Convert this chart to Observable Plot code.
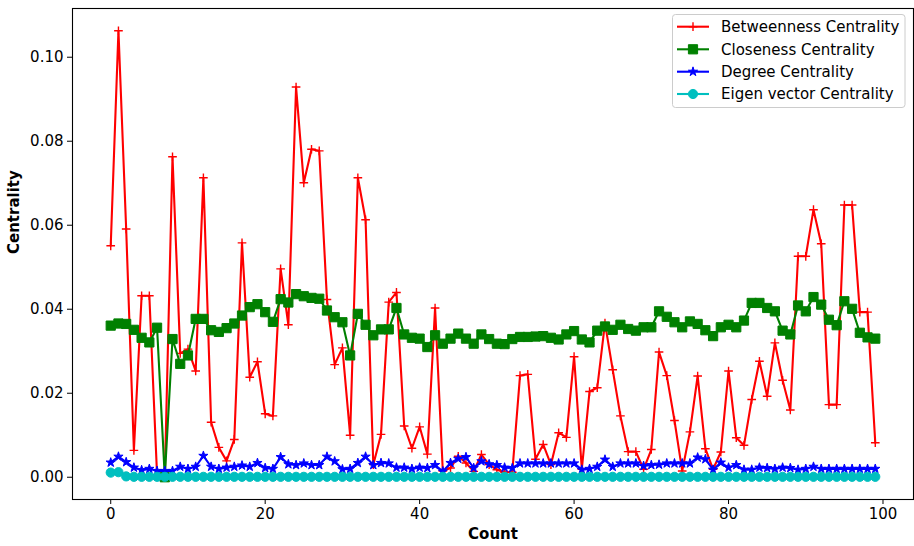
<!DOCTYPE html>
<html>
<head>
<meta charset="utf-8">
<script src="https://cdn.jsdelivr.net/npm/d3@7"></script>
<script src="https://cdn.jsdelivr.net/npm/@observablehq/plot@0.6"></script>
<style>
  html, body { margin: 0; padding: 0; background: white; }
  svg { display: block; }
</style>
</head>
<body>
<div id="chart"></div>
<script>
const seriesNames = ["Betweenness Centrality", "Closeness Centrality", "Degree Centrality", "Eigen vector Centrality"];
const xTicks = [0, 20, 40, 60, 80, 100];
const yTicks = [0.00, 0.02, 0.04, 0.06, 0.08, 0.10];

const betweenness = [
  0.0551, 0.1063, 0.0591, 0.0064, 0.0432, 0.0432, 0.0005, 0.0000, 0.0763, 0.0295,
  0.0305, 0.0253, 0.0713, 0.0131, 0.0071, 0.0039, 0.0090, 0.0558, 0.0238, 0.0275,
  0.0151, 0.0146, 0.0496, 0.0363, 0.0929, 0.0701, 0.0781, 0.0777, 0.0423, 0.0268,
  0.0308, 0.0100, 0.0713, 0.0613, 0.0030, 0.0102, 0.0417, 0.0440, 0.0122, 0.0069,
  0.0120, 0.0055, 0.0403, 0.0015, 0.0022, 0.0050, 0.0034, 0.0014, 0.0054, 0.0030,
  0.0018, 0.0012, 0.0012, 0.0242, 0.0245, 0.0043, 0.0078, 0.0030, 0.0106, 0.0095,
  0.0287, 0.0019, 0.0204, 0.0213, 0.0367, 0.0256, 0.0146, 0.0061, 0.0061, 0.0019,
  0.0066, 0.0298, 0.0242, 0.0135, 0.0015, 0.0108, 0.0241, 0.0068, 0.0019, 0.0060,
  0.0253, 0.0094, 0.0076, 0.0185, 0.0276, 0.0193, 0.0320, 0.0231, 0.0160, 0.0526,
  0.0526, 0.0637, 0.0556, 0.0173, 0.0173, 0.0648, 0.0648, 0.0393, 0.0393, 0.0082
];

const closeness = [
  0.0361, 0.0366, 0.0365, 0.0351, 0.0332, 0.0321, 0.0356, 0.0000, 0.0329, 0.0270,
  0.0290, 0.0377, 0.0377, 0.0350, 0.0346, 0.0355, 0.0366, 0.0385, 0.0405, 0.0412,
  0.0393, 0.0370, 0.0424, 0.0416, 0.0436, 0.0431, 0.0427, 0.0425, 0.0397, 0.0381,
  0.0369, 0.0290, 0.0389, 0.0363, 0.0338, 0.0352, 0.0352, 0.0403, 0.0340, 0.0332,
  0.0330, 0.0310, 0.0338, 0.0318, 0.0330, 0.0342, 0.0330, 0.0318, 0.0340, 0.0329,
  0.0318, 0.0317, 0.0329, 0.0334, 0.0334, 0.0335, 0.0336, 0.0332, 0.0328, 0.0340,
  0.0348, 0.0328, 0.0321, 0.0349, 0.0359, 0.0351, 0.0363, 0.0353, 0.0349, 0.0357,
  0.0357, 0.0395, 0.0382, 0.0369, 0.0357, 0.0371, 0.0365, 0.0350, 0.0336, 0.0357,
  0.0363, 0.0357, 0.0373, 0.0415, 0.0415, 0.0403, 0.0395, 0.0349, 0.0340, 0.0409,
  0.0395, 0.0429, 0.0411, 0.0375, 0.0362, 0.0419, 0.0401, 0.0344, 0.0333, 0.0330
];

const degree = [
  0.0035, 0.0049, 0.0036, 0.0023, 0.0017, 0.0020, 0.0015, 0.0015, 0.0015, 0.0025,
  0.0020, 0.0025, 0.0051, 0.0025, 0.0020, 0.0023, 0.0025, 0.0028, 0.0025, 0.0034,
  0.0022, 0.0020, 0.0048, 0.0031, 0.0029, 0.0033, 0.0029, 0.0029, 0.0049, 0.0038,
  0.0019, 0.0020, 0.0034, 0.0049, 0.0029, 0.0034, 0.0033, 0.0023, 0.0023, 0.0020,
  0.0023, 0.0022, 0.0029, 0.0014, 0.0034, 0.0044, 0.0048, 0.0022, 0.0038, 0.0031,
  0.0029, 0.0023, 0.0022, 0.0033, 0.0033, 0.0033, 0.0033, 0.0033, 0.0033, 0.0033,
  0.0033, 0.0018, 0.0020, 0.0025, 0.0042, 0.0025, 0.0033, 0.0033, 0.0033, 0.0027,
  0.0029, 0.0030, 0.0033, 0.0033, 0.0033, 0.0033, 0.0047, 0.0043, 0.0018, 0.0035,
  0.0023, 0.0029, 0.0018, 0.0018, 0.0023, 0.0022, 0.0020, 0.0023, 0.0022, 0.0018,
  0.0020, 0.0025, 0.0020, 0.0020, 0.0020, 0.0020, 0.0020, 0.0020, 0.0020, 0.0020
];

const eigenvector = [
  0.0011, 0.0012, 0.0002, 0.0001, 0.0001, 0.0001, 0.0001, 0.0001, 0.0001, 0.0001,
  0.0001, 0.0001, 0.0001, 0.0001, 0.0001, 0.0001, 0.0001, 0.0001, 0.0001, 0.0001,
  0.0001, 0.0001, 0.0001, 0.0001, 0.0001, 0.0001, 0.0001, 0.0001, 0.0001, 0.0001,
  0.0001, 0.0001, 0.0001, 0.0001, 0.0001, 0.0001, 0.0001, 0.0001, 0.0001, 0.0001,
  0.0001, 0.0001, 0.0001, 0.0001, 0.0001, 0.0001, 0.0001, 0.0001, 0.0001, 0.0001,
  0.0001, 0.0001, 0.0001, 0.0001, 0.0001, 0.0001, 0.0001, 0.0001, 0.0001, 0.0001,
  0.0001, 0.0001, 0.0001, 0.0001, 0.0001, 0.0001, 0.0001, 0.0001, 0.0001, 0.0001,
  0.0001, 0.0001, 0.0001, 0.0001, 0.0001, 0.0001, 0.0001, 0.0001, 0.0001, 0.0001,
  0.0001, 0.0001, 0.0001, 0.0001, 0.0001, 0.0001, 0.0001, 0.0001, 0.0001, 0.0001,
  0.0001, 0.0001, 0.0001, 0.0001, 0.0001, 0.0001, 0.0001, 0.0001, 0.0001, 0.0001
];

const counts = d3.range(betweenness.length);

const styles = [
  {color: "#ff0000", symbol: "plus",   r: 2.9, fill: "none",    stroke: "#ff0000", sw: 1.4},
  {color: "#008000", symbol: "square", r: 5.2, fill: "#008000", stroke: "#008000", sw: 1},
  {color: "#0000ff", symbol: "star",   r: 2.9, fill: "#0000ff", stroke: "#0000ff", sw: 1},
  {color: "#00bfbf", symbol: "circle", r: 4.6, fill: "#00bfbf", stroke: "#00bfbf", sw: 1}
];

const allSeries = [betweenness, closeness, degree, eigenvector];
const rows = allSeries.map(vals => counts.map(i => ({count: i, value: vals[i]})));

const marks = [];
rows.forEach((data, k) => {
  const s = styles[k];
  marks.push(Plot.line(data, {x: "count", y: "value", stroke: s.color, strokeWidth: 2.1}));
  marks.push(Plot.dot(data, {x: "count", y: "value", symbol: s.symbol, r: s.r, fill: s.fill, stroke: s.stroke, strokeWidth: s.sw}));
});

const chart = Plot.plot({
  width: 914,
  height: 546,
  marginLeft: 72,
  marginRight: 1,
  marginTop: 8,
  marginBottom: 47,
  style: {fontFamily: "DejaVu Sans", fontSize: "15px", background: "white", color: "black"},
  x: {domain: [-4.95, 103.95], ticks: xTicks, tickSize: 5, tickPadding: 4, label: null},
  y: {domain: [-0.0053, 0.1116], ticks: yTicks, tickSize: 5, tickPadding: 4, tickFormat: d3.format(".2f"), label: null},
  marks: [
    ...marks,
    Plot.frame({stroke: "black", strokeWidth: 1.1}),
    Plot.text(["Count"], {frameAnchor: "bottom", dy: 39, fontWeight: "bold", fontSize: 15}),
    Plot.text(["Centrality"], {frameAnchor: "left", dx: -58, rotate: -90, fontWeight: "bold", fontSize: 15})
  ]
});

document.getElementById("chart").appendChild(chart);

// Legend
const svg = d3.select(chart);
const lg = svg.append("g").attr("font-family", "DejaVu Sans").attr("font-size", 15).attr("text-anchor", "start");
lg.append("rect")
  .attr("x", 672.5).attr("y", 14.5).attr("width", 232.5).attr("height", 93)
  .attr("rx", 3).attr("fill", "white").attr("fill-opacity", 0.8)
  .attr("stroke", "#cccccc").attr("stroke-width", 1);
const rowY = [26.7, 49.3, 71.7, 94];
const symMap = {plus: d3.symbolPlus, square: d3.symbolSquare, star: d3.symbolStar, circle: d3.symbolCircle};
seriesNames.forEach((name, k) => {
  const s = styles[k];
  const y = rowY[k];
  lg.append("line").attr("x1", 677).attr("x2", 709).attr("y1", y).attr("y2", y)
    .attr("stroke", s.color).attr("stroke-width", 2.1);
  lg.append("path")
    .attr("d", d3.symbol(symMap[s.symbol], s.r * s.r * Math.PI)())
    .attr("transform", `translate(693,${y})`)
    .attr("fill", s.fill).attr("stroke", s.stroke).attr("stroke-width", s.sw);
  lg.append("text").attr("x", 721).attr("y", y).attr("dy", "0.35em")
    .attr("text-anchor", "start").attr("fill", "black").text(name);
});
</script>
</body>
</html>
